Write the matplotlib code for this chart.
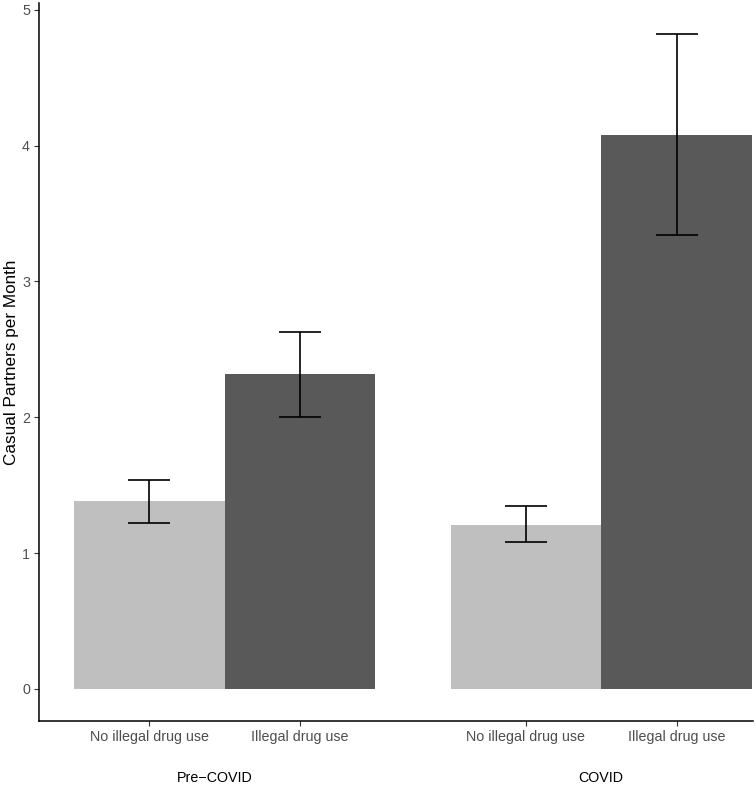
import matplotlib
matplotlib.use("Agg")
import matplotlib.pyplot as plt

# data
periods = ["Pre\u2212COVID", "COVID"]
groups = ["No illegal drug use", "Illegal drug use"]
means = [1.38, 2.32, 1.21, 4.08]
lower = [1.22, 2.00, 1.08, 3.34]
upper = [1.54, 2.63, 1.35, 4.82]
bar_colors = ["#BFBFBF", "#595959", "#BFBFBF", "#595959"]
yticks = [0, 1, 2, 3, 4, 5]

plt.rcParams["font.family"] = ["Liberation Sans", "DejaVu Sans"]

fig = plt.figure(figsize=(7.55, 7.86), dpi=100)
ax = fig.add_axes([39 / 755, 65 / 786, 714 / 755, 718 / 786])

xpos = [0, 1, 2.5, 3.5]
ax.bar(xpos, means, width=1.0, color=bar_colors, linewidth=0)

yerr = [[m - l for m, l in zip(means, lower)], [u - m for m, u in zip(means, upper)]]
ax.errorbar(xpos, means, yerr=yerr, fmt="none", ecolor="black",
            elinewidth=1.2, capsize=15, capthick=1.2)

ax.set_xlim(-0.732, 4.007)
ax.set_ylim(-0.236, 5.05)
ax.set_yticks(yticks)
ax.set_xticks(xpos)
ax.set_xticklabels(groups * 2)

for s in ["top", "right"]:
    ax.spines[s].set_visible(False)
for s in ["left", "bottom"]:
    ax.spines[s].set_linewidth(1.1)
    ax.spines[s].set_color("black")

ax.tick_params(axis="both", length=3.5, width=0.8, colors="#333333",
               labelsize=10.3, labelcolor="#4D4D4D")
ax.tick_params(axis="x", pad=3)
ax.tick_params(axis="y", pad=3)

ax.set_ylabel("Casual Partners per Month", fontsize=12.3, color="black", labelpad=2)

# period labels under the tick labels
centers = [215, 601]
for lab, cx in zip(periods, centers):
    fig.text(cx / 755, 1 - 778 / 786, lab, ha="center", va="center",
             fontsize=10.3, color="black")

fig.savefig("out.png", dpi=100)
